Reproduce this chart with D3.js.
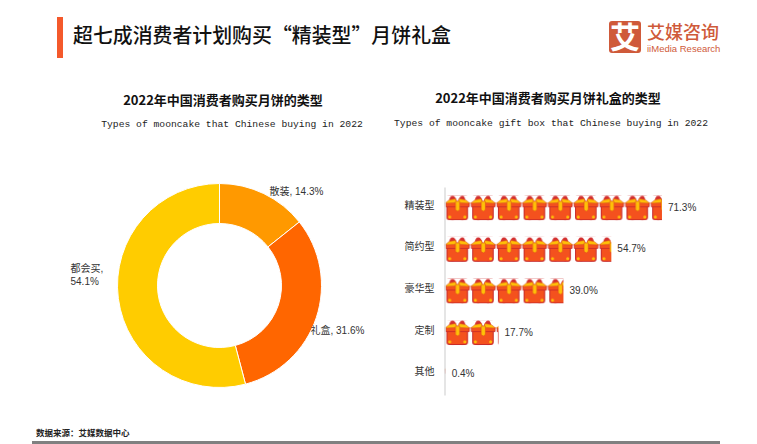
<!DOCTYPE html>
<html>
<head>
<meta charset="utf-8">
<script src="https://cdnjs.cloudflare.com/ajax/libs/d3/7.8.5/d3.min.js"></script>
<style>
  html, body { margin: 0; padding: 0; background: #fff; }
  svg { display: block; }
  text { font-family: "Liberation Sans", "Noto Sans CJK SC", sans-serif; fill: #333; }
  .cn { font-family: "Noto Sans CJK SC", sans-serif; }
  .en { font-family: "Liberation Mono", monospace; font-size: 9.7px; fill: #222; }
</style>
</head>
<body>
<svg id="chart" width="757" height="444"></svg>
<script>
var pieNames = ['散装', '礼盒', '都会买'];
var pieValues = [14.3, 31.6, 54.1];
var pieColors = ['#ff9900', '#ff6600', '#ffcc00'];

var boxTypes = ['精装型', '简约型', '豪华型', '定制', '其他'];
var boxValues = [71.3, 54.7, 39.0, 17.7, 0.4];

var svg = d3.select('#chart');

// header
svg.append('rect').attr('x', 57).attr('y', 17).attr('width', 6).attr('height', 41).attr('fill', '#f4592b');
svg.append('text').attr('class', 'cn').attr('x', 73).attr('y', 43)
  .attr('font-size', 19.9).attr('font-weight', 500).style('fill', '#111')
  .text('超七成消费者计划购买“精装型”月饼礼盒');

// logo
svg.append('rect').attr('x', 609).attr('y', 21).attr('width', 32).attr('height', 32).attr('rx', 3).attr('fill', '#cf5a3a');
svg.append('text').attr('class', 'cn').attr('x', 625).attr('y', 48).attr('text-anchor', 'middle')
  .attr('font-size', 30).attr('font-weight', 700).style('fill', '#fff').text('艾');
svg.append('text').attr('class', 'cn').attr('x', 647).attr('y', 39)
  .attr('font-size', 18).attr('font-weight', 500).style('fill', '#cf5a3a').text('艾媒咨询');
svg.append('text').attr('x', 647).attr('y', 52)
  .attr('font-size', 9.5).style('fill', '#cf5a3a').text('iiMedia Research');

// sub titles
svg.append('text').attr('class', 'cn').attr('x', 223).attr('y', 105).attr('text-anchor', 'middle')
  .attr('font-size', 13).attr('font-weight', 700).style('fill', '#111').text('2022年中国消费者购买月饼的类型');
svg.append('text').attr('class', 'en').attr('x', 232).attr('y', 127).attr('text-anchor', 'middle')
  .text('Types of mooncake that Chinese buying in 2022');
svg.append('text').attr('class', 'cn').attr('x', 548).attr('y', 103).attr('text-anchor', 'middle')
  .attr('font-size', 13).attr('font-weight', 700).style('fill', '#111').text('2022年中国消费者购买月饼礼盒的类型');
svg.append('text').attr('class', 'en').attr('x', 551).attr('y', 126).attr('text-anchor', 'middle')
  .text('Types of mooncake gift box that Chinese buying in 2022');

// donut
var pie = d3.pie().sort(null).startAngle(0).endAngle(2 * Math.PI);
var arc = d3.arc().innerRadius(62).outerRadius(102);
var donut = svg.append('g').attr('transform', 'translate(219.5,285.5)');
donut.selectAll('path')
  .data(pie(pieValues))
  .enter().append('path')
    .attr('d', arc)
    .attr('fill', function (d, i) { return pieColors[i]; })
    .attr('stroke', '#fff')
    .attr('stroke-width', 1);

var pieLabels = [
  { lines: [pieNames[0] + ', ' + pieValues[0].toFixed(1) + '%'], anchor: 'start', x: 50, y: -91 },
  { lines: [pieNames[1] + ', ' + pieValues[1].toFixed(1) + '%'], anchor: 'start', x: 91, y: 48 },
  { lines: [pieNames[2] + ',', pieValues[2].toFixed(1) + '%'], anchor: 'start', x: -149, y: -14 }
];
pieLabels.forEach(function (l) {
  l.lines.forEach(function (t, j) {
    donut.append('text')
      .attr('x', l.x).attr('y', l.y + j * 13)
      .attr('text-anchor', l.anchor)
      .attr('font-size', 10)
      .text(t);
  });
});

// pictorial bars
var x = d3.scaleLinear().domain([0, 100]).range([444.5, 749.5]);
var y = d3.scaleBand().domain(boxTypes).range([187, 395]);
var iconW = (x(8.43) - x(0)), iconH = 25;

var pattern = svg.append('defs').append('pattern')
  .attr('id', 'giftbox')
  .attr('patternUnits', 'userSpaceOnUse')
  .attr('width', iconW).attr('height', iconH);

// one gift box
pattern.append('path').attr('d', 'M2.5 10H23V22Q23 24.5 20.5 24.5H5Q2.5 24.5 2.5 22Z')
  .attr('fill', '#f4511e').attr('stroke', '#c62828').attr('stroke-width', 1);
pattern.append('path').attr('d', 'M1.2 7.5H24.8V11.5H1.2Z')
  .attr('fill', '#f4511e').attr('stroke', '#c62828').attr('stroke-width', 0.8);
pattern.append('path').attr('d', 'M4.5 6Q5 0.5 8 0.5Q11 0.5 12.5 6Z M21 6Q20.5 0.5 18 0.5Q15 0.5 13.5 6Z')
  .attr('fill', '#d32f2f');
pattern.append('path').attr('d', 'M0.4 8L5 4.5L11 3.5L13 7.5Z M25.4 8L21 4.5L15 3.5L13 7.5Z')
  .attr('fill', '#ffc107').attr('stroke', '#d84315').attr('stroke-width', 0.5);
pattern.append('path').attr('d', 'M11 6H15.2V14.5L13.1 16L11 14.5Z')
  .attr('fill', '#ffc107').attr('stroke', '#d84315').attr('stroke-width', 0.5);
pattern.append('circle').attr('cx', 5.2).attr('cy', 21.8).attr('r', 1.5).attr('fill', '#ffc107');
pattern.append('circle').attr('cx', 20.4).attr('cy', 21.8).attr('r', 1.5).attr('fill', '#ffc107');

var rows = svg.selectAll('g.row')
  .data(boxTypes)
  .enter().append('g')
    .attr('class', 'row')
    .attr('transform', function (d) {
      return 'translate(' + x(0) + ',' + (y(d) + y.bandwidth() / 2 - iconH / 2) + ')';
    });

rows.append('rect')
  .attr('width', function (d, i) { return x(boxValues[i]) - x(0); })
  .attr('height', iconH)
  .attr('fill', 'url(#giftbox)');

rows.append('text')
  .attr('x', function (d, i) { return x(boxValues[i]) - x(0) + 6; })
  .attr('y', iconH / 2 + 3)
  .attr('font-size', 10)
  .text(function (d, i) { return boxValues[i].toFixed(1) + '%'; });

var axis = svg.append('g')
  .attr('transform', 'translate(' + x(0) + ',0)')
  .call(d3.axisLeft(y).tickSize(0).tickPadding(10));
axis.select('.domain').attr('stroke', '#ddd').attr('stroke-width', 1.5);
axis.selectAll('text').attr('font-size', 10).attr('font-family', '"Noto Sans CJK SC", sans-serif').attr('dy', '0.1em');

// source
svg.append('text').attr('class', 'cn').attr('x', 36).attr('y', 436)
  .attr('font-size', 8.5).attr('font-weight', 700).style('fill', '#222').text('数据来源：艾媒数据中心');
svg.append('rect').attr('x', 32).attr('y', 441).attr('width', 688).attr('height', 3).attr('fill', '#808080');
</script>
</body>
</html>
